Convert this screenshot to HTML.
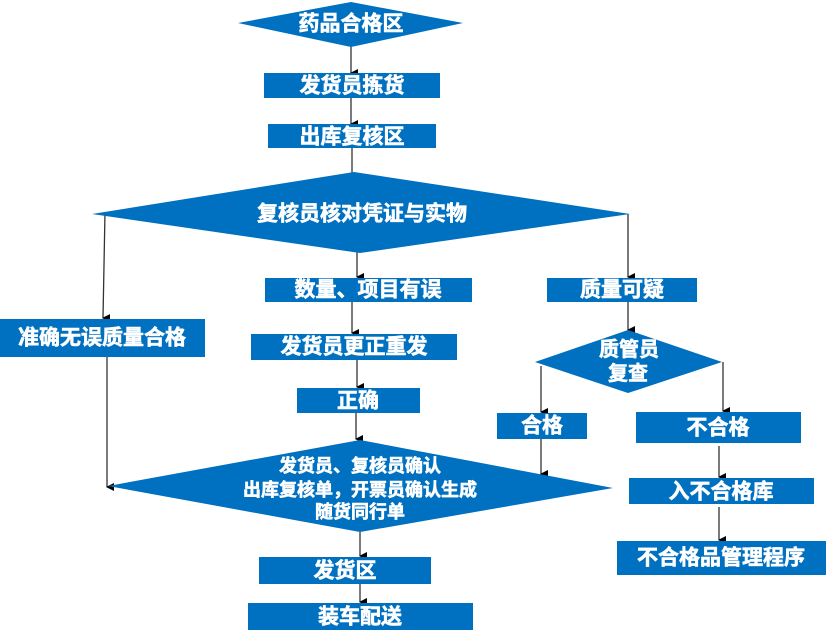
<!DOCTYPE html>
<html><head><meta charset="utf-8"><style>
html,body{margin:0;padding:0;background:#fff;width:826px;height:630px;overflow:hidden}
svg text{font-family:"Liberation Sans","Noto Sans CJK SC",sans-serif;font-weight:bold;fill:#fff;stroke:#fff;stroke-width:0.6;text-anchor:middle;dominant-baseline:central}
</style></head><body>
<svg width="826" height="630" viewBox="0 0 826 630" xmlns="http://www.w3.org/2000/svg">
<defs><marker id="a" markerWidth="8" markerHeight="8" refX="4" refY="7" orient="auto" markerUnits="userSpaceOnUse"><path d="M0,0 L8,0 L4,8 Z" fill="#000"/></marker></defs>
<g stroke="#333" stroke-width="1.3" fill="none" marker-end="url(#a)">
<line x1="351" y1="46" x2="351" y2="73"/>
<line x1="351" y1="98" x2="351" y2="124"/>
<line x1="352" y1="148" x2="352" y2="182"/>
<line x1="105" y1="212" x2="103" y2="318"/>
<line x1="357" y1="252" x2="357" y2="277"/>
<line x1="628" y1="214" x2="628" y2="277"/>
<line x1="352" y1="302" x2="352" y2="333"/>
<line x1="357" y1="360" x2="357" y2="387"/>
<line x1="628" y1="302" x2="628" y2="330"/>
<line x1="541" y1="366" x2="541" y2="412"/>
<line x1="723" y1="362" x2="723" y2="411"/>
<line x1="107" y1="357" x2="107" y2="487"/>
<line x1="356" y1="413" x2="356" y2="439"/>
<line x1="541" y1="439" x2="541" y2="474"/>
<line x1="719" y1="446" x2="719" y2="477"/>
<line x1="719" y1="507" x2="719" y2="540"/>
<line x1="360" y1="532" x2="360" y2="556"/>
<line x1="360" y1="584" x2="360" y2="602"/>
</g>
<g fill="#0070C0">
<polygon points="238,23 351,2 463,23 351,47"/>
<rect x="264" y="73" width="176" height="25"/>
<rect x="268" y="124" width="168" height="24"/>
<polygon points="92,214 354,172 630,214 360,253"/>
<rect x="265" y="278" width="207" height="24"/>
<rect x="547" y="278" width="150" height="24"/>
<rect x="0" y="319" width="205" height="38"/>
<rect x="251" y="334" width="206" height="26"/>
<polygon points="535,362 628,330 722,362 628,393"/>
<rect x="297" y="388" width="123" height="25"/>
<rect x="497" y="413" width="90" height="26"/>
<rect x="636" y="412" width="165" height="31"/>
<polygon points="108,486 360,440 613,488 360,532"/>
<rect x="629" y="478" width="185" height="26"/>
<rect x="259" y="557" width="172" height="27"/>
<rect x="617" y="541" width="209" height="34"/>
<rect x="248" y="603" width="225" height="27"/>
</g>
<text x="351" y="24" font-size="21">药品合格区</text>
<text x="352" y="86" font-size="21">发货员拣货</text>
<text x="352" y="137" font-size="21">出库复核区</text>
<text x="362" y="214" font-size="21">复核员核对凭证与实物</text>
<text x="368" y="290" font-size="21">数量、项目有误</text>
<text x="622" y="290" font-size="21">质量可疑</text>
<text x="102" y="338" font-size="21">准确无误质量合格</text>
<text x="354" y="347" font-size="21">发货员更正重发</text>
<text x="358" y="401" font-size="21">正确</text>
<text x="629" y="350" font-size="20">质管员</text>
<text x="628" y="374" font-size="20">复查</text>
<text x="542" y="426" font-size="21">合格</text>
<text x="718" y="428" font-size="21">不合格</text>
<text x="360" y="466" font-size="18">发货员、复核员确认</text>
<text x="360" y="490" font-size="18">出库复核单，开票员确认生成</text>
<text x="360" y="512" font-size="18">随货同行单</text>
<text x="721" y="492" font-size="21">入不合格库</text>
<text x="345" y="571" font-size="21">发货区</text>
<text x="721" y="558" font-size="21">不合格品管理程序</text>
<text x="360" y="617" font-size="21">装车配送</text>
</svg>
</body></html>
